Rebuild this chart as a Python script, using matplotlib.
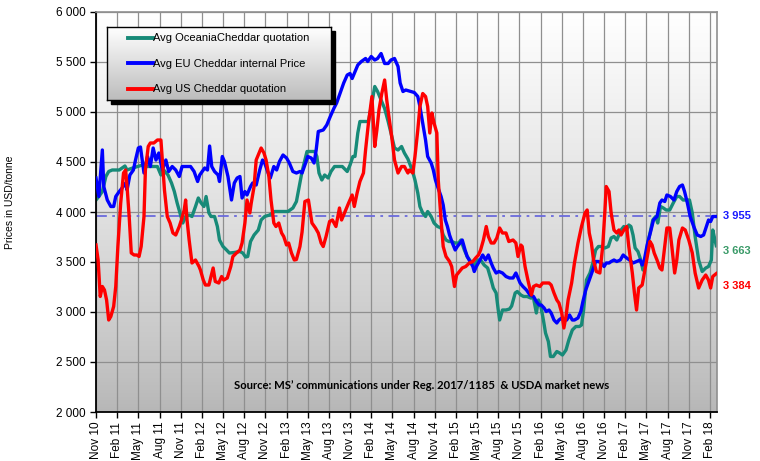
import numpy as np
import matplotlib.pyplot as plt
from matplotlib.colors import LinearSegmentedColormap
from matplotlib.patches import Rectangle
from matplotlib.ticker import FuncFormatter

# x = months counted from Nov 2010, y = USD/tonne
eu_month = [
    0.0, 0.4, 0.9, 1.1, 1.6, 2.1, 2.5, 2.8, 3.3, 3.7,
    4.2, 4.4, 4.8, 5.3, 5.6, 6.0, 6.3, 6.8, 7.3, 7.7,
    8.1, 8.5, 8.9, 9.4, 9.9, 10.3, 10.8, 11.3, 11.8, 12.2,
    12.9, 13.4, 13.9, 14.4, 14.7, 15.4, 15.8, 16.1, 16.4, 16.8,
    17.3, 17.5, 17.9, 18.2, 18.7, 19.2, 19.6, 20.0, 20.4, 20.7,
    21.1, 21.4, 21.9, 22.2, 22.7, 23.2, 23.6, 23.9, 24.4, 24.7,
    25.2, 25.6, 26.0, 26.5, 27.0, 27.4, 27.9, 28.4, 28.9, 29.2,
    29.7, 30.0, 30.5, 30.9, 31.2, 31.5, 32.2, 32.7, 33.2, 33.7,
    34.1, 34.6, 35.1, 35.6, 36.0, 36.3, 36.6, 37.1, 37.6, 38.2,
    38.5, 39.0, 39.5, 39.9, 40.4, 40.9, 41.4, 41.8, 42.3, 42.8,
    43.1, 43.5, 43.9, 44.6, 45.1, 45.6, 45.9, 46.3, 46.7, 47.0,
    47.5, 47.8, 48.1, 48.4, 48.9, 49.2, 49.5, 49.8, 50.1, 50.5,
    50.9, 51.2, 51.6, 51.9, 52.3, 52.6, 53.0, 53.4, 53.6, 53.9,
    54.3, 54.8, 55.2, 55.6, 56.0, 56.3, 56.7, 57.1, 57.6, 58.1,
    58.6, 59.1, 59.5, 59.8, 60.1, 60.5, 61.0, 61.5, 62.0, 62.4,
    62.8, 63.1, 63.5, 63.8, 64.2, 64.5, 64.9, 65.3, 65.6, 66.0,
    66.3, 66.7, 67.1, 67.5, 67.8, 68.3, 68.7, 69.0, 69.4, 69.9,
    70.4, 70.8, 71.2, 71.6, 72.0, 72.3, 72.7, 73.0, 73.4, 73.8,
    74.3, 74.7, 75.2, 75.6, 76.1, 76.6, 77.1, 77.4, 77.7, 78.1,
    78.6, 79.0, 79.5, 79.9, 80.2, 80.6, 80.9, 81.4, 81.9, 82.3,
    82.7, 83.1, 83.4, 83.8, 84.2, 84.7, 85.2, 85.7, 86.1, 86.5,
    86.8, 87.1, 87.4, 87.8]
eu_price = [
    4340, 4155, 4620, 4255, 4120, 4055, 4055, 4155, 4205, 4240,
    4290, 4220, 4370, 4420, 4520, 4640, 4650, 4390, 4555, 4455,
    4640, 4520, 4590, 4420, 4520, 4405, 4455, 4420, 4355, 4455,
    4455, 4455, 4405, 4305, 4370, 4440, 4420, 4660, 4455, 4405,
    4370, 4305, 4555, 4505, 4355, 4120, 4290, 4340, 4355, 4140,
    4205, 4170, 4255, 4290, 4270, 4420, 4520, 4490, 4390, 4340,
    4455, 4420, 4505, 4570, 4540, 4490, 4405, 4390, 4405, 4390,
    4490, 4555, 4540, 4490, 4620, 4805, 4820, 4870, 4955, 5035,
    5090, 5190, 5290, 5370, 5385, 5335, 5385, 5470, 5505, 5535,
    5505, 5555, 5520, 5535, 5585, 5485, 5485, 5520, 5535, 5455,
    5290, 5205, 5220, 5205, 5195, 5155, 5055, 4890, 4720, 4555,
    4490, 4420, 4320, 4255, 4155, 4070, 3920, 3855, 3770, 3690,
    3620, 3655, 3690, 3720, 3620, 3555, 3505, 3455, 3405, 3455,
    3505, 3570, 3520, 3570, 3490, 3440, 3390, 3405, 3390, 3355,
    3340, 3340, 3390, 3340, 3290, 3255, 3220, 3170, 3155, 3105,
    3070, 3070, 3040, 3005, 3020, 2990, 2920, 2890, 2920, 2940,
    2920, 2920, 2970, 2920, 2920, 2940, 3005, 3105, 3220, 3320,
    3420, 3505, 3505, 3490, 3455, 3490, 3490, 3505, 3520, 3505,
    3520, 3570, 3540, 3520, 3490, 3505, 3520, 3470, 3520, 3670,
    3805, 3920, 3955, 4090, 4120, 4105, 4170, 4155, 4120, 4205,
    4255, 4270, 4205, 4090, 3955, 3855, 3770, 3755, 3770, 3855,
    3920, 3905, 3955, 3955]

oce_month = [
    0.0, 0.4, 0.9, 1.4, 1.8, 2.3, 2.8, 3.3, 3.7, 4.1,
    4.4, 5.2, 5.9, 6.6, 7.3, 8.0, 8.7, 9.2, 9.6, 10.2,
    10.7, 11.1, 11.5, 11.9, 12.3, 12.7, 13.2, 13.6, 14.1, 14.5,
    14.9, 15.3, 15.6, 16.0, 16.3, 16.8, 17.2, 17.5, 18.0, 18.5,
    18.9, 19.6, 20.4, 20.8, 21.2, 21.5, 21.9, 22.4, 23.0, 23.4,
    23.9, 24.6, 25.3, 26.3, 27.2, 27.9, 28.4, 28.9, 29.2, 29.6,
    29.9, 30.4, 31.0, 31.3, 31.6, 32.0, 32.4, 32.9, 33.3, 33.8,
    34.4, 34.9, 35.6, 36.0, 36.4, 36.7, 37.1, 37.4, 38.2, 38.6,
    39.1, 39.5, 39.9, 40.4, 40.9, 41.4, 41.8, 42.3, 42.8, 43.3,
    43.7, 44.2, 44.8, 45.2, 45.6, 45.9, 46.3, 46.7, 47.0, 47.5,
    47.9, 48.4, 48.9, 49.2, 49.6, 50.0, 50.4, 50.9, 51.4, 51.7,
    52.2, 52.6, 53.1, 53.6, 54.1, 54.5, 55.0, 55.5, 56.0, 56.3,
    56.7, 57.0, 57.2, 57.6, 58.1, 58.6, 58.9, 59.4, 59.7, 60.2,
    60.6, 61.1, 61.6, 62.0, 62.4, 62.7, 63.0, 63.4, 63.7, 64.1,
    64.4, 64.8, 65.3, 65.7, 66.1, 66.6, 67.0, 67.5, 68.0, 68.5,
    68.8, 69.1, 69.5, 70.0, 70.4, 70.8, 71.2, 71.6, 72.1, 72.6,
    73.0, 73.4, 73.8, 74.1, 74.4, 74.8, 75.2, 75.5, 75.8, 76.1,
    76.4, 76.8, 77.2, 77.5, 77.9, 78.2, 78.6, 78.9, 79.3, 79.6,
    80.0, 80.4, 80.8, 81.3, 81.8, 82.3, 82.7, 83.2, 83.7, 84.1,
    84.5, 84.9, 85.4, 85.9, 86.4, 86.8, 87.2, 87.4, 87.6, 87.9]
oce_price = [
    4120, 4155, 4205, 4355, 4405, 4420, 4420, 4420, 4440, 4460,
    4420, 4440, 4455, 4470, 4455, 4455, 4455, 4370, 4420, 4370,
    4290, 4205, 4090, 3990, 3890, 3955, 3970, 3955, 4055, 4140,
    4090, 4055, 4155, 3990, 3955, 3955, 3855, 3720, 3655, 3620,
    3590, 3595, 3605, 3590, 3550, 3555, 3705, 3770, 3820, 3920,
    3955, 3970, 4005, 4005, 4005, 4040, 4105, 4290, 4405, 4520,
    4605, 4605, 4605, 4555, 4390, 4320, 4370, 4340, 4405, 4455,
    4455, 4455, 4405, 4470, 4555, 4555, 4790, 4905, 4905, 4905,
    5090, 5255, 5205, 5120, 5035, 4905, 4790, 4640, 4620, 4655,
    4590, 4530, 4420, 4320, 4190, 4055, 3990, 3955, 4005, 3955,
    3890, 3855, 3840, 3770, 3720, 3705, 3705, 3690, 3690, 3720,
    3620, 3555, 3505, 3470, 3520, 3520, 3470, 3440, 3320, 3240,
    3190, 3020, 2920, 3020, 3020, 3030, 3060, 3190, 3205, 3170,
    3155, 3155, 3140, 3140, 2990, 3120, 3070, 2920, 2790, 2705,
    2555, 2555, 2605, 2590, 2570, 2620, 2720, 2820, 2855, 2855,
    2870, 3020, 3320, 3390, 3490, 3620, 3655, 3655, 3640, 3655,
    3740, 3755, 3720, 3770, 3820, 3855, 3820, 3870, 3855, 3770,
    3640, 3605, 3520, 3420, 3520, 3690, 3820, 3920, 3955, 3890,
    4055, 4040, 4020, 4020, 4090, 4155, 4155, 4120, 4120, 4120,
    3990, 3755, 3520, 3405, 3440, 3455, 3520, 3820, 3755, 3663]

us_month = [
    0.0, 0.3, 0.6, 0.9, 1.2, 1.5, 1.8, 2.1, 2.5, 2.8,
    3.1, 3.5, 3.9, 4.2, 4.4, 4.7, 5.0, 5.4, 5.8, 6.1,
    6.4, 6.8, 7.0, 7.4, 7.7, 8.2, 8.7, 9.2, 9.4, 9.7,
    10.1, 10.5, 10.9, 11.3, 11.8, 12.1, 12.5, 12.7, 12.9, 13.2,
    13.6, 14.1, 14.6, 14.8, 15.2, 15.5, 16.0, 16.3, 16.6, 16.9,
    17.4, 17.8, 18.1, 18.6, 19.1, 19.4, 19.9, 20.4, 20.7, 21.1,
    21.4, 21.8, 22.0, 22.4, 22.7, 23.1, 23.4, 23.8, 24.1, 24.5,
    24.8, 25.2, 25.5, 25.9, 26.3, 26.6, 27.0, 27.3, 27.7, 28.1,
    28.4, 28.9, 29.2, 29.6, 30.1, 30.6, 31.1, 31.5, 31.9, 32.2,
    32.6, 33.1, 33.5, 34.0, 34.5, 34.8, 35.3, 35.8, 36.3, 36.6,
    37.0, 37.4, 37.9, 38.2, 38.6, 39.1, 39.5, 39.8, 40.1, 40.5,
    40.9, 41.2, 41.6, 41.9, 42.3, 42.8, 43.3, 43.7, 44.2, 44.4,
    44.9, 45.2, 45.6, 45.9, 46.3, 46.7, 47.0, 47.3, 47.6, 47.9,
    48.3, 48.5, 48.9, 49.2, 49.6, 50.1, 50.4, 50.8, 51.1, 51.5,
    51.9, 52.4, 52.9, 53.4, 53.8, 54.2, 54.5, 54.9, 55.3, 55.6,
    56.0, 56.4, 56.8, 57.2, 57.6, 58.1, 58.5, 59.1, 59.5, 59.8,
    60.2, 60.4, 60.8, 61.2, 61.7, 62.0, 62.4, 62.9, 63.3, 63.7,
    64.2, 64.5, 64.9, 65.3, 65.6, 66.0, 66.3, 66.6, 66.9, 67.4,
    67.8, 68.3, 68.8, 69.3, 69.6, 69.9, 70.2, 70.5, 70.9, 71.4,
    71.8, 72.1, 72.3, 72.7, 73.0, 73.4, 73.8, 74.1, 74.4, 74.8,
    75.2, 75.5, 76.0, 76.3, 76.6, 76.9, 77.4, 77.7, 78.1, 78.5,
    78.8, 79.1, 79.5, 79.9, 80.2, 80.6, 80.9, 81.3, 81.6, 82.0,
    82.3, 82.6, 83.1, 83.5, 84.0, 84.5, 84.9, 85.4, 85.9, 86.4,
    86.8, 87.1, 87.4, 87.9]
us_price = [
    3670, 3520, 3155, 3255, 3220, 3120, 2920, 2955, 3055, 3255,
    3655, 4090, 4390, 4420, 4255, 3955, 3590, 3570, 3570, 3555,
    3655, 3955, 4420, 4655, 4690, 4690, 4720, 4720, 4520, 4220,
    3955, 3890, 3790, 3770, 3855, 3920, 4020, 4120, 3920, 3720,
    3490, 3520, 3455, 3420, 3320, 3270, 3270, 3355, 3440, 3305,
    3290, 3355, 3320, 3340, 3455, 3555, 3590, 3620, 3690, 3890,
    4120, 3990, 4090, 4255, 4520, 4590, 4640, 4590, 4520, 4355,
    4120, 3890, 3855, 3890, 3790, 3755, 3670, 3690, 3590, 3520,
    3525, 3655, 3800, 4105, 4120, 3890, 3840, 3790, 3690, 3655,
    3755, 3905, 3920, 3855, 4040, 3920, 4005, 4090, 4170, 4055,
    4190, 4305, 4390, 4620, 4885, 5155, 4655, 4820, 5020, 5185,
    5320, 5120, 4905, 4755, 4520, 4390, 4455, 4455, 4390, 4420,
    4390, 4555, 4820, 5055, 5185, 5155, 5055, 4790, 4990, 4890,
    4790, 4320, 3920, 3655, 3555, 3505, 3455, 3255, 3370, 3405,
    3440, 3455, 3490, 3505, 3540, 3570, 3620, 3720, 3855, 3755,
    3690, 3690, 3740, 3840, 3790, 3790, 3705, 3720, 3690, 3555,
    3670, 3655, 3455, 3320, 3170, 3255, 3270, 3255, 3290, 3290,
    3290, 3270, 3190, 3120, 3090, 2990, 2840, 2955, 3120, 3290,
    3490, 3690, 3855, 3990, 4020, 3790, 3690, 3520, 3405, 3390,
    3655, 3990, 4255, 4205, 3990, 3820, 3790, 3820, 3770, 3820,
    3855, 3655, 3390, 3190, 3020, 3240, 3270, 3390, 3555, 3705,
    3670, 3590, 3520, 3440, 3420, 3655, 3840, 3840, 3655, 3390,
    3520, 3720, 3840, 3820, 3720, 3590, 3390, 3240, 3320, 3370,
    3320, 3240, 3355, 3384]

tick_months = list(range(0, 88, 3))
tick_labels = [
    'Nov 10', 'Feb 11', 'May 11', 'Aug 11', 'Nov 11', 'Feb 12', 'May 12', 'Aug 12',
    'Nov 12', 'Feb 13', 'May 13', 'Aug 13', 'Nov 13', 'Feb 14', 'May 14', 'Aug 14',
    'Nov 14', 'Feb 15', 'May 15', 'Aug 15', 'Nov 15', 'Feb 16', 'May 16', 'Aug 16',
    'Nov 16', 'Feb 17', 'May 17', 'Aug 17', 'Nov 17', 'Feb 18']
ref_level = 3955

series_names = ['Avg OceaniaCheddar quotation', 'Avg EU Cheddar internal Price',
                'Avg US Cheddar quotation']
GREEN, BLUE, RED = '#178a78', '#0000ff', '#ff0000'

plt.rcParams['font.family'] = ['Liberation Sans', 'DejaVu Sans']

W, H = 760, 461
fig = plt.figure(figsize=(W / 100, H / 100), dpi=100)
fig.patch.set_facecolor('white')

# plot area in pixels: x 96..717, y 12..412
ax = fig.add_axes([96 / W, 1 - 412 / H, 621 / W, 400 / H])
bg = LinearSegmentedColormap.from_list('bg', ['#b6b6b6', '#ffffff'])
grad = np.linspace(1, 0, 256).reshape(-1, 1) ** 0.8
ax.imshow(grad, cmap=bg, aspect='auto', extent=[0, 88, 2000, 6000],
          origin='upper', zorder=0, vmin=0, vmax=1)

ax.set_xlim(0, 88)
ax.set_ylim(2000, 6000)
ax.set_yticks(range(2000, 6001, 500))
ax.yaxis.set_major_formatter(FuncFormatter(lambda v, p: f'{v:,.0f}'.replace(',', ' ')))
ax.set_xticks(tick_months)
ax.set_xticklabels(tick_labels, rotation=90)
ax.tick_params(direction='out', length=4, width=1, labelsize=8.5, colors='black')
ax.tick_params(axis='x', pad=3)
ax.grid(True, color='#8f8f8f', lw=0.9)
ax.set_axisbelow(True)
for s in ['left', 'bottom']:
    ax.spines[s].set_color('black')
    ax.spines[s].set_linewidth(1.3)
for s in ['top', 'right']:
    ax.spines[s].set_color('#8f8f8f')
    ax.spines[s].set_linewidth(1.2)

ax.axhline(ref_level, color='#6a6adc', lw=1.3, ls=(0, (6, 3, 1.5, 3)), zorder=1.5)
ax.plot(oce_month, oce_price, color=GREEN, lw=2.4, zorder=2, solid_joinstyle='round')
ax.plot(eu_month, eu_price, color=BLUE, lw=2.4, zorder=3, solid_joinstyle='round')
ax.plot(us_month, us_price, color=RED, lw=2.4, zorder=4, solid_joinstyle='round')

# last values shown at the right edge
fmt = lambda v: f'{v:,}'.replace(',', ' ')
for val, ypos, col in [(eu_price[-1], 3960, '#1a1aff'), (oce_price[-1], 3610, '#3a9a68'),
                       (us_price[-1], 3260, '#ff0000')]:
    ax.text(88.85, ypos, fmt(val), color=col, fontsize=8, fontweight='bold',
            va='center', ha='left', clip_on=False)

ax.text(0.524, 0.066, 'Source: MS\u2019 communications under Reg. 2017/1185  & USDA market news',
        transform=ax.transAxes, ha='center', va='center', fontsize=8.1,
        fontweight='bold', family=['Lato', 'DejaVu Sans'], zorder=5)

fig.text(10 / W, 1 - 202 / H, 'Prices in USD/tonne', rotation=90, fontsize=7.5,
         ha='center', va='center')

# legend box with shadow
lx0, ly0, lx1, ly1 = 107, 27, 331, 100
fig.add_artist(Rectangle(((lx0 + 4) / W, 1 - (ly1 + 4) / H), (lx1 - lx0) / W, (ly1 - ly0) / H,
                         transform=fig.transFigure, color='black', zorder=2))
lax = fig.add_axes([lx0 / W, 1 - ly1 / H, (lx1 - lx0) / W, (ly1 - ly0) / H], zorder=3)
lbg = LinearSegmentedColormap.from_list('lbg', ['#bcbcbc', '#ffffff'])
lax.imshow(np.linspace(1, 0, 256).reshape(-1, 1), cmap=lbg, aspect='auto',
           extent=[0, 1, 0, 1], origin='upper', vmin=0, vmax=1)
lax.set_xlim(0, 1)
lax.set_ylim(0, 1)
lax.set_xticks([])
lax.set_yticks([])
for s in lax.spines.values():
    s.set_color('black')
    s.set_linewidth(1)
for name, col, yy in zip(series_names, [GREEN, BLUE, RED], [0.85, 0.50, 0.15]):
    lax.plot([0.094, 0.205], [yy, yy], color=col, lw=2.8)
    lax.text(0.207, yy, name, fontsize=8, va='center', ha='left')

fig.savefig('out.png', dpi=100)
